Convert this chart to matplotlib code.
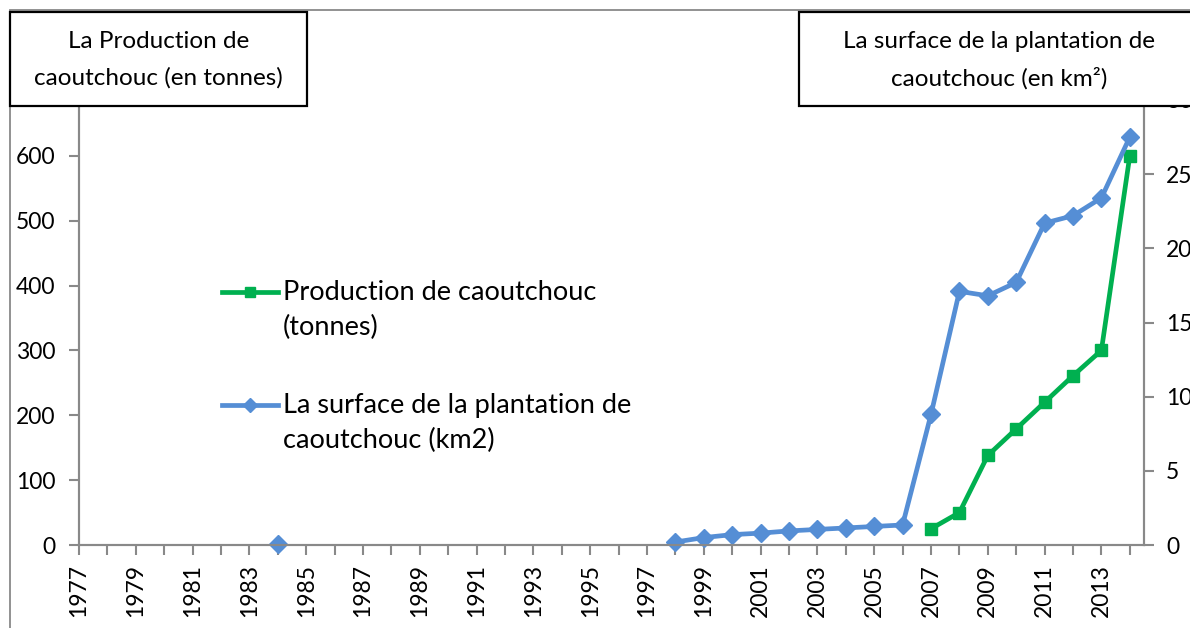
import numpy as np
import matplotlib
matplotlib.use("Agg")
import matplotlib.pyplot as plt
from matplotlib.patches import Rectangle
from matplotlib.lines import Line2D

plt.rcParams['font.family'] = ['Lato', 'DejaVu Sans']

years = np.arange(1977, 2015)

# production (tonnes), left axis
prod_years = [2007, 2008, 2009, 2010, 2011, 2012, 2013, 2014]
prod_vals = [25, 50, 138, 179, 220, 261, 300, 600]

# plantation surface (km2), right axis
surf_years = [1984, 1998, 1999, 2000, 2001, 2002, 2003, 2004, 2005, 2006,
              2007, 2008, 2009, 2010, 2011, 2012, 2013, 2014]
surf_vals = [0.05, 0.2, 0.5, 0.7, 0.8, 0.95, 1.05, 1.15, 1.25, 1.35,
             8.8, 17.1, 16.8, 17.7, 21.7, 22.2, 23.4, 27.5]

prod_label = ["Production de caoutchouc", "(tonnes)"]
surf_label = ["La surface de la plantation de", "caoutchouc (km2)"]
left_title = ["La Production de", "caoutchouc (en tonnes)"]
right_title = ["La surface de la plantation de", "caoutchouc (en km²)"]

GREEN = "#00B050"
BLUE = "#558ED5"
GREY = "#898989"

W, H = 1190, 628


def fx(x):
    return x / W


def fy(y):
    return 1 - y / H


def full(yrs, vals):
    # put values on the full year range, NaN where there is no data
    out = np.full(len(years), np.nan)
    for y, v in zip(yrs, vals):
        out[y - years[0]] = v
    return out


fig = plt.figure(figsize=(W / 100, H / 100), dpi=100)
ax = fig.add_axes([fx(79), fy(545), fx(1144) - fx(79), fy(100) - fy(545)])
ax2 = ax.twinx()

ax.plot(years, full(prod_years, prod_vals), color=GREEN, lw=3.4,
        marker="s", ms=8.5, clip_on=False)
ax2.plot(years, full(surf_years, surf_vals), color=BLUE, lw=3.4,
         marker="D", ms=9, clip_on=False)

ax.set_xlim(1977, 2014.5)
ax.set_ylim(0, 686)
ax2.set_ylim(0, 30)
ax.set_yticks(range(0, 700, 100))
ax2.set_yticks(range(0, 35, 5))
ax.set_xticks(years)
ax.set_xticklabels([str(y) if (y - 1977) % 2 == 0 else "" for y in years],
                   rotation=90)

for a in (ax, ax2):
    for s in a.spines.values():
        s.set_color(GREY)
        s.set_linewidth(1.5)
    a.spines["top"].set_visible(False)
    a.tick_params(colors=GREY, labelcolor="black", labelsize=16.5,
                  length=7, width=1.5, direction="out")
ax.tick_params(axis="y", pad=10)
ax.tick_params(axis="x", pad=7)
ax2.tick_params(axis="y", pad=9)

# outer chart frame
fig.patches.append(Rectangle((fx(10), fy(1400)), 2, fy(10) - fy(1400),
                             transform=fig.transFigure, fill=False,
                             edgecolor=GREY, lw=1.3, zorder=5))

# axis title boxes
for x0, x1 in [(10, 307), (799, 1300)]:
    fig.patches.append(Rectangle((fx(x0), fy(106)), fx(x1) - fx(x0),
                                 fy(12) - fy(106), transform=fig.transFigure,
                                 facecolor="white", edgecolor="black",
                                 lw=1.6, zorder=10))
for cx, lines in [((10 + 307) / 2, left_title), (999, right_title)]:
    fig.text(fx(cx), fy(41), lines[0], ha="center", va="center",
             fontsize=17.5, zorder=11)
    fig.text(fx(cx), fy(78), lines[1], ha="center", va="center",
             fontsize=17.5, zorder=11)

# legend
for y, color, mk, ms, lines in [(292, GREEN, "s", 7, prod_label),
                                (405, BLUE, "D", 7.5, surf_label)]:
    fig.lines.append(Line2D([fx(222), fx(250), fx(278)], [fy(y)] * 3,
                            transform=fig.transFigure, color=color, lw=3.4,
                            marker=mk, ms=ms, markevery=[1], zorder=6))
    fig.text(fx(283), fy(y), lines[0], ha="left", va="center", fontsize=19.5)
    fig.text(fx(283), fy(y + 35), lines[1], ha="left", va="center",
             fontsize=19.5)

fig.savefig("out.png", dpi=100)
